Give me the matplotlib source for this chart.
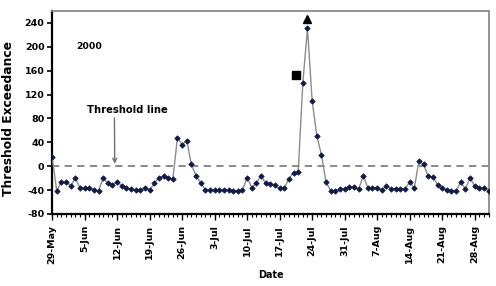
import matplotlib
matplotlib.use("Agg")
import matplotlib.pyplot as plt
import matplotlib.dates as mdates
import datetime as dt

plt.rcParams['font.family'] = ['DejaVu Sans']
plt.rcParams['font.weight'] = 'bold'

start_date = dt.date(2000, 5, 29)
values = [16, -41, -27, -26, -33, -20, -36, -36, -36, -40,
          -41, -20, -28, -31, -26, -33, -37, -39, -40, -40,
          -37, -40, -29, -19, -17, -19, -22, 48, 36, 43,
          3, -16, -28, -40, -40, -40, -40, -40, -40, -41,
          -41, -40, -19, -36, -28, -16, -29, -30, -32, -37,
          -37, -21, -11, -10, 140, 231, 110, 51, 19, -27,
          -41, -41, -39, -38, -35, -35, -39, -16, -36, -36,
          -36, -40, -33, -38, -38, -38, -38, -27, -37, 9,
          3, -17, -18, -31, -37, -40, -41, -41, -27, -38,
          -20, -33, -37, -37, -41]
dates = [start_date + dt.timedelta(days=i) for i in range(len(values))]

tick_labels = ['29-May', '5-Jun', '12-Jun', '19-Jun', '26-Jun', '3-Jul', '10-Jul',
               '17-Jul', '24-Jul', '31-Jul', '7-Aug', '14-Aug', '21-Aug', '28-Aug']
tick_dates = [start_date + dt.timedelta(days=7 * i) for i in range(len(tick_labels))]

y_ticks = [-80, -40, 0, 40, 80, 120, 160, 200, 240]

square_date = dt.datetime(2000, 7, 20, 15)
square_value = 152
triangle_date = dt.date(2000, 7, 23)
triangle_value = 247

fig = plt.figure(figsize=(4.96, 2.86), dpi=100)
ax = fig.add_axes([0.105, 0.252, 0.881, 0.7095])

x0 = mdates.date2num(start_date)

ax.axhline(0, color='#808080', linestyle=(0, (4, 3)), linewidth=1.3, zorder=1)
ax.plot(dates, values, color='#8c8c8c', linewidth=1.0, marker='D', markersize=2.8,
        markerfacecolor='#0d1a4a', markeredgecolor='#0d1a4a', markeredgewidth=0.5,
        zorder=3)
ax.plot([square_date], [square_value], marker='s', markersize=5.2, color='black',
        linestyle='none', zorder=4)
ax.plot([triangle_date], [triangle_value], marker='^', markersize=6.2, color='black',
        linestyle='none', zorder=4)

ax.set_ylim(-80, 260)
ax.set_xlim(x0, x0 + 94.1)
ax.set_yticks(y_ticks)
ax.set_yticklabels([str(v) for v in y_ticks], fontsize=6.8, fontweight='bold')
ax.set_xticks(tick_dates)
ax.set_xticklabels(tick_labels, rotation=90, fontsize=6.8, fontweight='bold')
ax.xaxis.set_minor_locator(mdates.DayLocator())
ax.tick_params(axis='x', which='major', length=4, width=1, direction='out', pad=4)
ax.tick_params(axis='x', which='minor', length=2.5, width=0.8, direction='out')
ax.tick_params(axis='y', which='major', length=3.5, width=1.2, direction='out', pad=2)

for s in ['left', 'bottom']:
    ax.spines[s].set_color('black')
    ax.spines[s].set_linewidth(1.6)
for s in ['top', 'right']:
    ax.spines[s].set_color('#8a8a8a')
    ax.spines[s].set_linewidth(1.3)

ax.set_ylabel('Threshold Exceedance', fontsize=8.8, fontweight='bold')
ax.yaxis.set_label_coords(-0.084, 0.47)
ax.set_xlabel('Date', fontsize=6.9, fontweight='bold')
ax.xaxis.set_label_coords(0.5, -0.275)

ax.text(x0 + 5.2, 200, '2000', fontsize=6.7, fontweight='bold',
        va='center', ha='left')
ax.annotate('Threshold line', xy=(x0 + 13.5, 4),
            xytext=(x0 + 16.2, 94),
            fontsize=7.2, fontweight='bold', ha='center', va='center',
            arrowprops=dict(arrowstyle='->', color='#707070', lw=1.0,
                            shrinkA=0, shrinkB=0, relpos=(0.34, 0.0)))

fig.savefig('out.png', dpi=100)
